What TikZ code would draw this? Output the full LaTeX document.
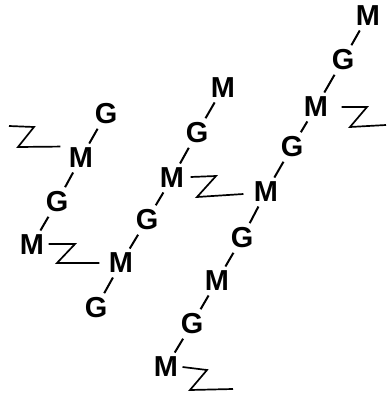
\documentclass[tikz,border=0pt]{standalone}
\usepackage{fontspec}
\setmainfont{Liberation Sans}
\usepackage{tikz}
\usetikzlibrary{positioning}

\begin{document}
\begin{tikzpicture}[
  x=1bp, y=-1bp,
  font=\fontsize{29}{29}\selectfont\bfseries,
  unit/.style={inner sep=1.5bp, outer sep=0pt},
  bond/.style={line width=2bp, shorten <=3.5bp, shorten >=3.5bp},
  zlink/.style={line width=1.7bp, line join=miter}
]
\useasboundingbox (0,0) rectangle (388,396);

% left chain
\node[unit] (g1) at (106,114) {G};
\node[unit] (m1) at (81,158) {M};
\node[unit] (g2) at (57,202) {G};
\node[unit] (m2) at (32,245) {M};

% middle chain
\node[unit] (m3) at (223,88) {M};
\node[unit] (g3) at (197,133) {G};
\node[unit] (m4) at (172,178) {M};
\node[unit] (g4) at (147,220) {G};
\node[unit] (m5) at (121,263) {M};
\node[unit] (g5) at (96,308) {G};

% right chain
\node[unit] (m6) at (368,16) {M};
\node[unit] (g6) at (343,60) {G};
\node[unit] (m7) at (316,107) {M};
\node[unit] (g7) at (292,147) {G};
\node[unit] (m8) at (266,192) {M};
\node[unit] (g8) at (242,238) {G};
\node[unit] (m9) at (217,281) {M};
\node[unit] (g9) at (192,324) {G};
\node[unit] (m10) at (166,367) {M};

\draw[bond] (g1) -- (m1);
\draw[bond] (m1) -- (g2);
\draw[bond] (g2) -- (m2);

\draw[bond] (m3) -- (g3);
\draw[bond] (g3) -- (m4);
\draw[bond] (m4) -- (g4);
\draw[bond] (g4) -- (m5);
\draw[bond] (m5) -- (g5);

\draw[bond] (m6) -- (g6);
\draw[bond] (g6) -- (m7);
\draw[bond] (m7) -- (g7);
\draw[bond] (g7) -- (m8);
\draw[bond] (m8) -- (g8);
\draw[bond] (g8) -- (m9);
\draw[bond] (m9) -- (g9);
\draw[bond] (g9) -- (m10);

% Z links
\coordinate (zfree1) at (9,126);
\coordinate (zfree2) at (386,125);
\coordinate (zfree3) at (233,389);
\draw[zlink] ([xshift=-7bp]m1.north west) -- (18,147) -- (34,127) -- (zfree1);
\draw[zlink] ([xshift=3bp,yshift=1bp]m2.east) -- (75,244) -- (57,263) -- ([xshift=-8bp]m5.west);
\draw[zlink] ([xshift=5bp,yshift=1bp]m4.east) -- (216,176) -- (197,197) -- ([xshift=-9bp,yshift=-2bp]m8.west);
\draw[zlink] ([xshift=12bp]m7.east) -- (367,107) -- (350,127) -- (zfree2);
\draw[zlink] ([xshift=3bp]m10.east) -- (207,370) -- (190,390) -- (zfree3);
\end{tikzpicture}
\end{document}
